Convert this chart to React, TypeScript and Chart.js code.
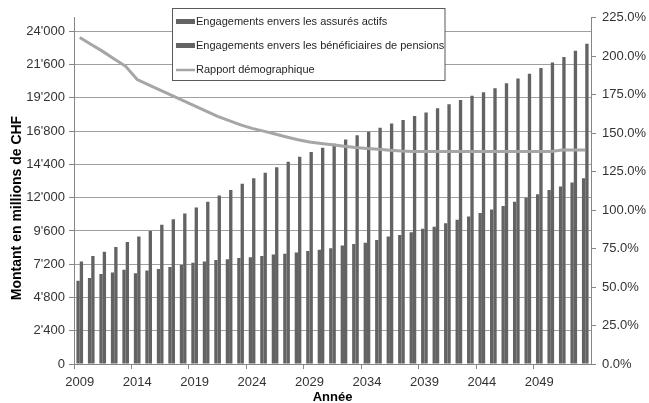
import React, { useEffect, useRef } from "react";
import { Chart, registerables } from "chart.js";

Chart.register(...registerables);

const years = [
  "2009", "2010", "2011", "2012", "2013", "2014", "2015", "2016", "2017", "2018",
  "2019", "2020", "2021", "2022", "2023", "2024", "2025", "2026", "2027", "2028",
  "2029", "2030", "2031", "2032", "2033", "2034", "2035", "2036", "2037", "2038",
  "2039", "2040", "2041", "2042", "2043", "2044", "2045", "2046", "2047", "2048",
  "2049", "2050", "2051", "2052", "2053",
];

const actifs = [
  6000, 6200, 6500, 6600, 6800, 6550, 6750, 6850, 7000, 7150,
  7300, 7400, 7500, 7550, 7650, 7700, 7800, 7900, 7950, 8050,
  8150, 8250, 8350, 8550, 8650, 8750, 8950, 9200, 9300, 9500,
  9750, 9900, 10150, 10400, 10650, 10900, 11150, 11400, 11700, 12000,
  12250, 12550, 12800, 13100, 13400,
];

const beneficiaires = [
  7400, 7800, 8100, 8450, 8800, 9200, 9600, 10050, 10450, 10850,
  11300, 11700, 12150, 12550, 13000, 13400, 13800, 14200, 14600, 14950,
  15300, 15600, 15900, 16200, 16500, 16750, 17050, 17350, 17600, 17900,
  18150, 18450, 18750, 19050, 19350, 19600, 19900, 20250, 20600, 20950,
  21350, 21750, 22150, 22600, 23100,
];

const rapport = [
  212, 207.5, 203, 198, 193.3, 184.7, 181.2, 177.8, 174.4, 171,
  167.6, 164.2, 160.8, 158, 155.3, 153, 151.2, 149.3, 147.4, 145.6,
  144.2, 143.2, 142.3, 141.4, 140.6, 140, 139.4, 138.8, 138.3, 138,
  138, 138, 138, 138, 138, 138, 138, 138, 138, 138,
  138, 138, 139, 139, 139,
];

const leftTicks = [0, 2400, 4800, 7200, 9600, 12000, 14400, 16800, 19200, 21600, 24000];
const rightTicks = [0, 25, 50, 75, 100, 125, 150, 175, 200, 225];

const seriesNames = [
  "Engagements envers les assurés actifs",
  "Engagements envers les bénéficiaires de pensions",
  "Rapport démographique",
];

const yTitle = "Montant en millions de CHF";
const xTitle = "Année";

const FONT = '"Liberation Sans", Arial, Helvetica, sans-serif';
const BAR_COLOR = "#636363";
const LINE_COLOR = "#a6a6a6";
const AXIS_COLOR = "#868686";
const GRID_COLOR = "#a0a0a0";
const TEXT_COLOR = "#333333";

function fmtThousands(v: number): string {
  const s = Math.round(v).toString();
  return s.replace(/\B(?=(\d{3})+(?!\d))/g, "'");
}

const overlayPlugin = {
  id: "overlay",
  afterDraw(chart: any) {
    const ctx = chart.ctx as CanvasRenderingContext2D;
    ctx.save();
    ctx.fillStyle = "#000";
    ctx.font = `bold 14px ${FONT}`;
    ctx.textAlign = "center";
    ctx.textBaseline = "middle";
    ctx.translate(17, 208);
    ctx.rotate(-Math.PI / 2);
    ctx.fillText(yTitle, 0, 0);
    ctx.restore();

    ctx.save();
    ctx.fillStyle = "#000";
    ctx.font = `bold 13px ${FONT}`;
    ctx.textAlign = "center";
    ctx.textBaseline = "middle";
    const ca = chart.chartArea;
    ctx.fillText(xTitle, (ca.left + ca.right) / 2, 397);
    ctx.restore();

    ctx.save();
    const bx = 172.5, by = 8.5, bw = 272.5, bh = 72;
    ctx.fillStyle = "#ffffff";
    ctx.fillRect(bx, by, bw, bh);
    ctx.strokeStyle = "#595959";
    ctx.lineWidth = 1;
    ctx.strokeRect(bx, by, bw, bh);
    const rows = [21.5, 45.5, 70];
    ctx.font = `11px ${FONT}`;
    ctx.textAlign = "left";
    ctx.textBaseline = "middle";
    for (let i = 0; i < 3; i++) {
      const cy = rows[i];
      if (i < 2) {
        ctx.fillStyle = BAR_COLOR;
        ctx.fillRect(176, cy - 2.5, 19, 5);
      } else {
        ctx.strokeStyle = LINE_COLOR;
        ctx.lineWidth = 2.5;
        ctx.beginPath();
        ctx.moveTo(176, cy);
        ctx.lineTo(195, cy);
        ctx.stroke();
      }
      ctx.fillStyle = "#262626";
      ctx.fillText(seriesNames[i], 196, cy);
    }
    ctx.restore();
  },
};

export default function App() {
  const canvasRef = useRef<HTMLCanvasElement | null>(null);

  useEffect(() => {
    const canvas = canvasRef.current;
    if (!canvas) return;
    const chart = new Chart(canvas, {
      type: "bar",
      data: {
        labels: years,
        datasets: [
          {
            type: "line",
            label: seriesNames[2],
            data: rapport,
            yAxisID: "y1",
            borderColor: LINE_COLOR,
            backgroundColor: LINE_COLOR,
            borderWidth: 3,
            pointRadius: 0,
            tension: 0,
            order: 0,
          } as any,
          {
            type: "bar",
            label: seriesNames[0],
            data: actifs,
            yAxisID: "y",
            backgroundColor: BAR_COLOR,
            borderWidth: 0,
            categoryPercentage: 0.58,
            barPercentage: 1,
            order: 1,
          } as any,
          {
            type: "bar",
            label: seriesNames[1],
            data: beneficiaires,
            yAxisID: "y",
            backgroundColor: BAR_COLOR,
            borderWidth: 0,
            categoryPercentage: 0.58,
            barPercentage: 1,
            order: 2,
          } as any,
        ],
      },
      options: {
        responsive: false,
        animation: false,
        devicePixelRatio: 1,
        layout: { padding: { top: 17.5, left: 0, right: 0, bottom: 0 } },
        plugins: {
          legend: { display: false },
          tooltip: { enabled: false },
          title: { display: false },
        },
        scales: {
          x: {
            position: "bottom",
            offset: true,
            grid: {
              offset: true,
              drawOnChartArea: false,
              drawTicks: true,
              tickLength: 5,
              color: (c: any) => (c.index % 5 === 0 ? AXIS_COLOR : "rgba(0,0,0,0)"),
            },
            border: { color: AXIS_COLOR },
            ticks: {
              autoSkip: false,
              maxRotation: 0,
              minRotation: 0,
              padding: 6,
              color: TEXT_COLOR,
              font: { family: FONT, size: 13 },
              callback: (_v: any, i: number) => (i % 5 === 0 ? years[i] : ""),
            },
            afterFit: (s: any) => {
              s.height = 39;
            },
          },
          y: {
            position: "left",
            min: 0,
            max: 25000,
            grid: { color: GRID_COLOR, tickColor: AXIS_COLOR, tickLength: 5 },
            border: { color: AXIS_COLOR },
            afterBuildTicks: (s: any) => {
              s.ticks = leftTicks.map((v) => ({ value: v }));
            },
            ticks: {
              padding: 4,
              color: TEXT_COLOR,
              font: { family: FONT, size: 13 },
              callback: (v: any) => fmtThousands(Number(v)),
            },
            afterFit: (s: any) => {
              s.width = 74;
            },
          },
          y1: {
            position: "right",
            min: 0,
            max: 225,
            grid: { drawOnChartArea: false, color: AXIS_COLOR, tickLength: 5 },
            border: { color: AXIS_COLOR },
            afterBuildTicks: (s: any) => {
              s.ticks = rightTicks.map((v) => ({ value: v }));
            },
            ticks: {
              padding: 6,
              color: TEXT_COLOR,
              font: { family: FONT, size: 13 },
              callback: (v: any) => Number(v).toFixed(1) + "%",
            },
            afterFit: (s: any) => {
              s.width = 58;
            },
          },
        },
      } as any,
      plugins: [overlayPlugin],
    });
    return () => chart.destroy();
  }, []);

  return (
    <div style={{ position: "absolute", left: 0, top: 0, width: 649, height: 403, background: "#fff" }}>
      <canvas ref={canvasRef} width={649} height={403} style={{ display: "block", width: 649, height: 403 }} />
    </div>
  );
}
